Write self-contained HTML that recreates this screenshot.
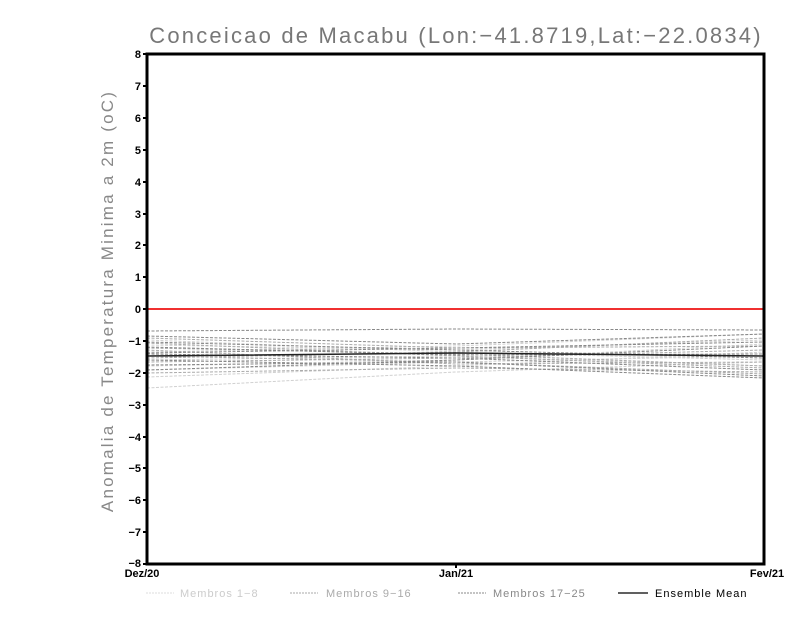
<!DOCTYPE html>
<html><head><meta charset="utf-8"><style>body{margin:0;background:#fff}svg{display:block}</style></head><body>
<svg width="800" height="618" xmlns="http://www.w3.org/2000/svg" font-family="Liberation Sans, sans-serif">
<rect width="800" height="618" fill="#fff"/>
<text x="456" y="43" text-anchor="middle" font-size="22" fill="#777" letter-spacing="2.2">Conceicao de Macabu (Lon:−41.8719,Lat:−22.0834)</text>
<text transform="translate(113,301) rotate(-90)" text-anchor="middle" font-size="17" fill="#888" letter-spacing="2.2">Anomalia de Temperatura Minima a 2m (oC)</text>
<g fill="none" stroke-width="1" stroke-dasharray="3,1.5">
<g stroke="#d0d0d0">
<polyline points="147,388 456,372 764,362"/>
<polyline points="147,377 456,366 764,352"/>
<polyline points="147,345 456,350 764,340"/>
<polyline points="147,360 456,356 764,366"/>
<polyline points="147,352 456,346 764,334"/>
<polyline points="147,370 456,362 764,356"/>
<polyline points="147,340 456,352 764,360"/>
<polyline points="147,366 456,360 764,344"/>
</g>
<g stroke="#aaa">
<polyline points="147,373 456,368 764,372"/>
<polyline points="147,348 456,354 764,366"/>
<polyline points="147,338 456,348 764,346"/>
<polyline points="147,356 456,362 764,374"/>
<polyline points="147,362 456,358 764,350"/>
<polyline points="147,343 456,356 764,368"/>
<polyline points="147,358 456,352 764,338"/>
<polyline points="147,350 456,364 764,362"/>
</g>
<g stroke="#888">
<polyline points="147,331 456,329 764,330"/>
<polyline points="147,336 456,344 764,334"/>
<polyline points="147,342 456,350 764,358"/>
<polyline points="147,354 456,358 764,370"/>
<polyline points="147,365 456,362 764,376"/>
<polyline points="147,347 456,355 764,354"/>
<polyline points="147,360 456,366 764,378"/>
<polyline points="147,370 456,360 764,346"/>
<polyline points="147,353 456,348 764,342"/>
</g>
</g>
<polyline points="147,356 456,353 764,356" fill="none" stroke="#222" stroke-width="1.5"/>
<line x1="147" y1="309" x2="764" y2="309" stroke="#f03030" stroke-width="2"/>
<rect x="147" y="54" width="617" height="510" fill="none" stroke="#000" stroke-width="3"/>
<g font-size="11" font-weight="bold" text-anchor="end" fill="#000">
<text x="141" y="58">8</text><text x="141" y="90">7</text><text x="141" y="122">6</text><text x="141" y="154">5</text><text x="141" y="186">4</text><text x="141" y="218">3</text><text x="141" y="249">2</text><text x="141" y="281">1</text><text x="141" y="313">0</text><text x="141" y="345">−1</text><text x="141" y="377">−2</text><text x="141" y="409">−3</text><text x="141" y="441">−4</text><text x="141" y="472">−5</text><text x="141" y="504">−6</text><text x="141" y="536">−7</text><text x="141" y="567">−8</text>
</g>
<g stroke="#000" stroke-width="2">
<line x1="143" y1="54" x2="147" y2="54"/><line x1="143" y1="86" x2="147" y2="86"/><line x1="143" y1="118" x2="147" y2="118"/><line x1="143" y1="150" x2="147" y2="150"/><line x1="143" y1="182" x2="147" y2="182"/><line x1="143" y1="214" x2="147" y2="214"/><line x1="143" y1="245" x2="147" y2="245"/><line x1="143" y1="277" x2="147" y2="277"/><line x1="143" y1="309" x2="147" y2="309"/><line x1="143" y1="341" x2="147" y2="341"/><line x1="143" y1="373" x2="147" y2="373"/><line x1="143" y1="405" x2="147" y2="405"/><line x1="143" y1="437" x2="147" y2="437"/><line x1="143" y1="468" x2="147" y2="468"/><line x1="143" y1="500" x2="147" y2="500"/><line x1="143" y1="532" x2="147" y2="532"/><line x1="143" y1="564" x2="147" y2="564"/>
<line x1="456" y1="564" x2="456" y2="568"/>
</g>
<g font-size="11" font-weight="bold" fill="#000" text-anchor="middle">
<text x="142" y="577">Dez/20</text><text x="456" y="577">Jan/21</text><text x="767" y="577">Fev/21</text>
</g>
<g font-size="11" letter-spacing="1">
<line x1="146" y1="593" x2="174" y2="593" stroke="#ddd" stroke-dasharray="2,1"/><text x="180" y="597" fill="#ccc">Membros 1−8</text>
<line x1="290" y1="593" x2="318" y2="593" stroke="#aaa" stroke-dasharray="2,1"/><text x="326" y="597" fill="#aaa">Membros 9−16</text>
<line x1="458" y1="593" x2="486" y2="593" stroke="#888" stroke-dasharray="2,1"/><text x="493" y="597" fill="#888">Membros 17−25</text>
<line x1="618" y1="593" x2="648" y2="593" stroke="#000" stroke-width="1.2"/><text x="655" y="597" fill="#000">Ensemble Mean</text>
</g>
</svg>
</body></html>
